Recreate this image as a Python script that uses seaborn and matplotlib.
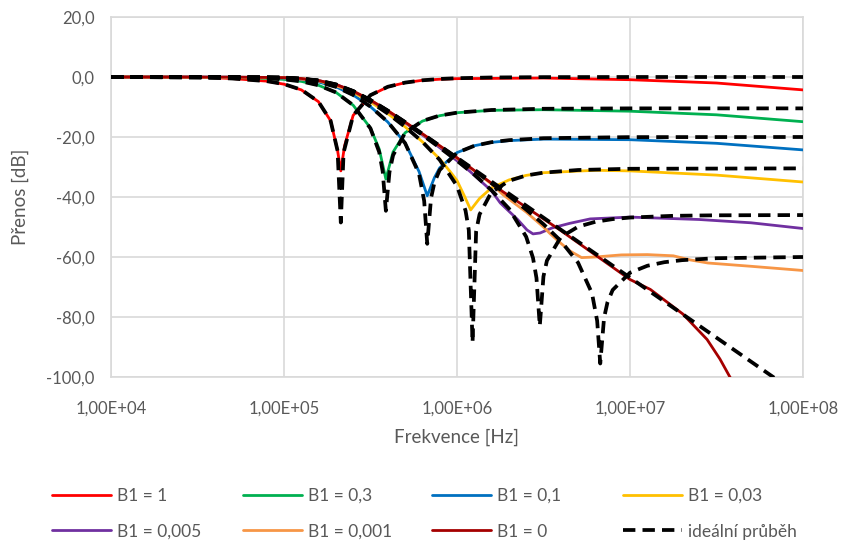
import matplotlib
matplotlib.use("Agg")
import matplotlib.pyplot as plt
import seaborn as sns
from matplotlib.lines import Line2D
from matplotlib.ticker import FixedLocator, FixedFormatter, NullLocator

# ---------------- data ----------------
x_ticks = [1e4, 1e5, 1e6, 1e7, 1e8]
x_tick_labels = ["1,00E+04", "1,00E+05", "1,00E+06", "1,00E+07", "1,00E+08"]
y_ticks = [-100, -80, -60, -40, -20, 0, 20]
y_tick_labels = ["-100,0", "-80,0", "-60,0", "-40,0", "-20,0", "0,0", "20,0"]

labels = ["B1 = 1", "B1 = 0,3", "B1 = 0,1", "B1 = 0,03",
          "B1 = 0,005", "B1 = 0,001", "B1 = 0"]
ideal_label = "ideální průběh"
colors = ["#FF0000", "#00B050", "#0070C0", "#FFC000",
          "#7030A0", "#F79646", "#A50000"]

# measured curves
f_b1_1 = [1e4, 3.16e4, 5.01e4, 7.94e4, 1e5, 1.26e5, 1.58e5, 1.86e5, 2.04e5, 2.13e5,
          2.24e5, 2.51e5, 3.16e5, 3.98e5, 5.01e5, 6.31e5, 7.94e5, 1e6, 3.16e6, 1e7,
          3.16e7, 1e8]
db_b1_1 = [0, -0.02, -0.5, -1.38, -2.4, -4.3, -8.2, -14.6, -24.5, -31.3,
           -22.9, -12.8, -6.1, -3.3, -1.9, -1.1, -0.75, -0.55, -0.35, -0.9,
           -2.0, -4.3]

f_b1_03 = [1e4, 5.01e4, 7.94e4, 1e5, 1.26e5, 1.58e5, 2.0e5, 2.51e5, 3.16e5, 3.55e5,
           3.88e5, 4.27e5, 5.01e5, 6.31e5, 7.94e5, 1e6, 1.58e6, 3.16e6, 1e7, 3.16e7,
           1e8]
db_b1_03 = [0, -0.16, -0.45, -0.8, -1.46, -2.75, -5.15, -9.4, -17.0, -24.0,
            -34.0, -25.0, -18.6, -14.7, -12.9, -11.9, -11.1, -10.9, -11.4, -12.6,
            -14.9]

f_b1_01 = [1e4, 5.01e4, 7.94e4, 1e5, 1.26e5, 1.58e5, 2.0e5, 2.51e5, 3.16e5, 3.98e5,
           5.01e5, 6.03e5, 6.73e5, 7.41e5, 7.94e5, 1e6, 1.26e6, 1.58e6, 2.0e6, 3.16e6,
           1e7, 3.16e7, 1e8]
db_b1_01 = [0, -0.06, -0.2, -0.4, -0.81, -1.66, -3.29, -6.0, -9.9, -15.0,
            -22.0, -31.5, -39.6, -33.5, -30.3, -25.2, -22.9, -21.8, -21.2, -20.7,
            -20.9, -22.1, -24.3]

f_b1_003 = [1e4, 1e5, 1.26e5, 1.58e5, 2.0e5, 2.51e5, 3.16e5, 3.98e5, 5.01e5, 6.31e5,
            7.94e5, 9.12e5, 1e6, 1.10e6, 1.20e6, 1.35e6, 1.58e6, 2.0e6, 2.51e6, 3.16e6,
            6.31e6, 1e7, 3.16e7, 1e8]
db_b1_003 = [0, -0.27, -0.59, -1.3, -2.7, -5.1, -8.3, -12.2, -16.6, -21.6,
             -27.3, -31.5, -34.5, -39.5, -44.3, -40.5, -37.0, -34.3, -32.8, -31.9,
             -31.1, -31.3, -32.7, -35.0]

f_b1_0005 = [1e4, 1e5, 1.58e5, 2.0e5, 2.51e5, 3.16e5, 3.98e5, 5.01e5, 6.31e5, 7.94e5,
             1e6, 1.19e6, 1.58e6, 1.78e6, 2.24e6, 2.54e6, 2.75e6, 3.02e6, 3.55e6, 4.47e6,
             5.89e6, 1e7, 2.51e7, 5.01e7, 1e8]
db_b1_0005 = [0, -0.21, -1.17, -2.5, -4.75, -7.79, -11.37, -15.26, -19.32, -23.53,
              -27.91, -31.5, -37.9, -42.0, -47.5, -51.0, -52.3, -52.0, -50.3, -48.8,
              -47.3, -46.7, -47.5, -48.6, -50.5]

f_b1_0001 = [1e4, 1e5, 1.58e5, 2.51e5, 3.16e5, 3.98e5, 5.01e5, 6.31e5, 7.94e5, 1e6,
             1.26e6, 1.58e6, 1.85e6, 2.51e6, 3.16e6, 3.45e6, 3.94e6, 4.50e6, 5.25e6, 6.31e6,
             8.91e6, 1.26e7, 1.78e7, 2.24e7, 2.82e7, 5.01e7, 1e8]
db_b1_0001 = [0, -0.21, -1.17, -4.7, -7.7, -11.25, -15.07, -19.01, -23.02, -27.1,
              -31.3, -35.6, -39.3, -45.0, -50.0, -52.2, -55.2, -58.0, -60.2, -60.0,
              -59.3, -59.2, -59.6, -61.0, -62.0, -63.1, -64.5]

f_b1_0 = [1e4, 5.01e4, 1e5, 1.26e5, 1.58e5, 2.0e5, 2.51e5, 3.16e5, 3.98e5, 5.01e5,
          6.31e5, 7.94e5, 1e6, 1.85e6, 3.94e6, 1e7, 1.31e7, 2.02e7, 2.79e7, 3.31e7,
          3.78e7, 4.17e7]
db_b1_0 = [0, -0.01, -0.21, -0.5, -1.17, -2.49, -4.69, -7.69, -11.22, -15.02,
           -18.93, -22.9, -26.9, -38.3, -51.0, -67.5, -70.8, -79.0, -87.5, -94.0,
           -100.0, -104.0]

# ideal curves
fi_b1_1 = [1e4, 3.16e4, 5.01e4, 7.94e4, 1e5, 1.26e5, 1.58e5, 1.86e5, 2.04e5, 2.13e5,
           2.21e5, 2.51e5, 3.16e5, 3.98e5, 5.01e5, 6.31e5, 7.94e5, 1e6, 1.58e6, 3.16e6,
           1e7, 1e8]
dbi_b1_1 = [0, -0.02, -0.5, -1.38, -2.37, -4.24, -8.19, -14.6, -24.6, -48.5,
            -25.2, -12.8, -6.05, -3.26, -1.87, -1.1, -0.67, -0.41, -0.16, -0.04,
            0, 0]

fi_b1_03 = [1e4, 5.01e4, 7.94e4, 1e5, 1.26e5, 1.58e5, 2.0e5, 2.51e5, 3.16e5, 3.55e5,
            3.72e5, 3.88e5, 4.07e5, 4.27e5, 5.01e5, 6.31e5, 7.94e5, 1e6, 1.58e6, 3.16e6,
            1e7, 1e8]
dbi_b1_03 = [0, -0.16, -0.45, -0.8, -1.46, -2.75, -5.15, -9.39, -17.12, -25.0,
             -31.5, -44.6, -31.7, -26.1, -18.58, -14.65, -12.85, -11.89, -11.0, -10.59,
             -10.46, -10.46]

fi_b1_01 = [1e4, 5.01e4, 7.94e4, 1e5, 1.26e5, 1.58e5, 2.0e5, 2.51e5, 3.16e5, 3.98e5,
            5.01e5, 6.03e5, 6.46e5, 6.73e5, 7.08e5, 7.41e5, 7.94e5, 1e6, 1.26e6, 1.58e6,
            2.0e6, 3.16e6, 1e7, 1e8]
dbi_b1_01 = [0, -0.06, -0.2, -0.4, -0.81, -1.66, -3.29, -5.99, -9.86, -14.96,
             -22.04, -32.2, -41.3, -55.6, -40.3, -35.1, -31.01, -25.25, -22.92, -21.73,
             -21.05, -20.4, -20.04, -20.0]

fi_b1_003 = [1e4, 7.94e4, 1e5, 1.26e5, 1.58e5, 2.0e5, 2.51e5, 3.16e5, 3.98e5, 5.01e5,
             6.31e5, 7.94e5, 1e6, 1.12e6, 1.17e6, 1.23e6, 1.29e6, 1.35e6, 1.58e6, 2.0e6,
             2.51e6, 3.16e6, 5.01e6, 1e7, 1e8]
dbi_b1_003 = [0, -0.12, -0.27, -0.59, -1.31, -2.72, -5.06, -8.29, -12.18, -16.6,
              -21.59, -27.6, -36.32, -44.5, -51.0, -88.5, -51.4, -45.8, -38.44, -34.6,
              -32.83, -31.88, -31.0, -30.59, -30.46]

fi_b1_0005 = [1e4, 1e5, 1.58e5, 2.0e5, 2.51e5, 3.16e5, 3.98e5, 5.01e5, 6.31e5, 7.94e5,
              1e6, 1.26e6, 1.58e6, 2.0e6, 2.51e6, 2.75e6, 2.88e6, 3.01e6, 3.16e6, 3.31e6,
              3.98e6, 5.01e6, 6.31e6, 7.94e6, 1e7, 1.78e7, 3.16e7, 1e8]
dbi_b1_0005 = [0, -0.21, -1.17, -2.5, -4.75, -7.79, -11.37, -15.26, -19.32, -23.53,
               -27.91, -32.55, -37.7, -43.91, -53.23, -60.3, -67.0, -83.0, -66.5, -61.2,
               -53.38, -49.91, -48.26, -47.37, -46.85, -46.27, -46.1, -46.02]

fi_b1_0001 = [1e4, 1e5, 1.58e5, 2.51e5, 3.16e5, 3.98e5, 5.01e5, 6.31e5, 7.94e5, 1e6,
              1.26e6, 1.58e6, 2.0e6, 2.51e6, 3.16e6, 3.98e6, 5.01e6, 6.03e6, 6.46e6, 6.73e6,
              7.08e6, 7.41e6, 7.94e6, 1e7, 1.26e7, 1.58e7, 2.0e7, 3.16e7, 1e8]
dbi_b1_0001 = [0, -0.21, -1.17, -4.7, -7.7, -11.25, -15.07, -19.01, -23.02, -27.08,
               -31.19, -35.38, -39.68, -44.18, -49.05, -54.62, -61.9, -72.1, -81.3, -95.5,
               -80.3, -75.1, -70.99, -65.24, -62.92, -61.73, -61.05, -60.4, -60.0]

fi_b1_0 = [1e4, 5.01e4, 1e5, 1.26e5, 1.58e5, 2.0e5, 2.51e5, 3.16e5, 3.98e5, 5.01e5,
           6.31e5, 7.94e5, 1e6, 3.16e6, 1e7, 3.16e7, 7.94e7]
dbi_b1_0 = [0, -0.01, -0.21, -0.5, -1.17, -2.49, -4.69, -7.69, -11.22, -15.02,
            -18.93, -22.9, -26.89, -46.88, -66.88, -86.88, -102.9]

measured = [(f_b1_1, db_b1_1), (f_b1_03, db_b1_03), (f_b1_01, db_b1_01),
            (f_b1_003, db_b1_003), (f_b1_0005, db_b1_0005), (f_b1_0001, db_b1_0001),
            (f_b1_0, db_b1_0)]
ideal = [(fi_b1_1, dbi_b1_1), (fi_b1_03, dbi_b1_03), (fi_b1_01, dbi_b1_01),
         (fi_b1_003, dbi_b1_003), (fi_b1_0005, dbi_b1_0005), (fi_b1_0001, dbi_b1_0001),
         (fi_b1_0, dbi_b1_0)]

# ---------------- drawing ----------------
sns.set_theme(style="whitegrid")
plt.rcParams['font.family'] = ['Lato', 'DejaVu Sans']
txt = "#595959"
grid_c = "#D9D9D9"

fig = plt.figure(figsize=(8.44, 5.45), dpi=100)
ax = fig.add_axes([111 / 844, 1 - 377 / 545, 692 / 844, 360 / 545])
ax.set_facecolor("white")

solid_lw = 2.0
dash_lw = 2.7
dash_pat = (0, (3.3, 1.9))

for (f, db), c in zip(measured, colors):
    sns.lineplot(x=f, y=db, ax=ax, color=c, lw=solid_lw, estimator=None,
                 legend=False, zorder=3)

for f, db in ideal:
    sns.lineplot(x=f, y=db, ax=ax, color="black", lw=dash_lw, estimator=None,
                 legend=False, zorder=4)
    ax.lines[-1].set_linestyle(dash_pat)

ax.set_xscale("log")
ax.set_xlim(1e4, 1e8)
ax.set_ylim(-100, 20)
ax.xaxis.set_major_locator(FixedLocator(x_ticks))
ax.xaxis.set_major_formatter(FixedFormatter(x_tick_labels))
ax.xaxis.set_minor_locator(NullLocator())
ax.yaxis.set_major_locator(FixedLocator(y_ticks))
ax.yaxis.set_major_formatter(FixedFormatter(y_tick_labels))

ax.grid(True, color=grid_c, lw=1.2)
for s in ax.spines.values():
    s.set_color(grid_c)
    s.set_linewidth(1.2)
ax.tick_params(axis="both", length=0, labelsize=12, labelcolor=txt)
ax.tick_params(axis="x", pad=17)
ax.tick_params(axis="y", pad=12)

ax.set_xlabel("Frekvence [Hz]", fontsize=13.5, color=txt, labelpad=9)
ax.set_ylabel("Přenos [dB]", fontsize=13.5, color=txt, labelpad=12)

# legend: four columns of two entries, placed as in the reference
handles = [Line2D([], [], color=c, lw=solid_lw) for c in colors]
handles.append(Line2D([], [], color="black", lw=dash_lw, linestyle=dash_pat))
all_labels = labels + [ideal_label]
col_x = [52, 243, 432, 623]
col_items = [(0, 4), (1, 5), (2, 6), (3, 7)]
for cx, (a, b) in zip(col_x, col_items):
    fig.legend([handles[a], handles[b]], [all_labels[a], all_labels[b]],
               ncol=1, loc="lower left", bbox_to_anchor=(cx / 844, 0.010),
               frameon=False, fontsize=12.5, labelcolor=txt,
               handlelength=3.4, handletextpad=0.35,
               labelspacing=1.15, borderpad=0, borderaxespad=0)

fig.savefig("out.png", dpi=100)
